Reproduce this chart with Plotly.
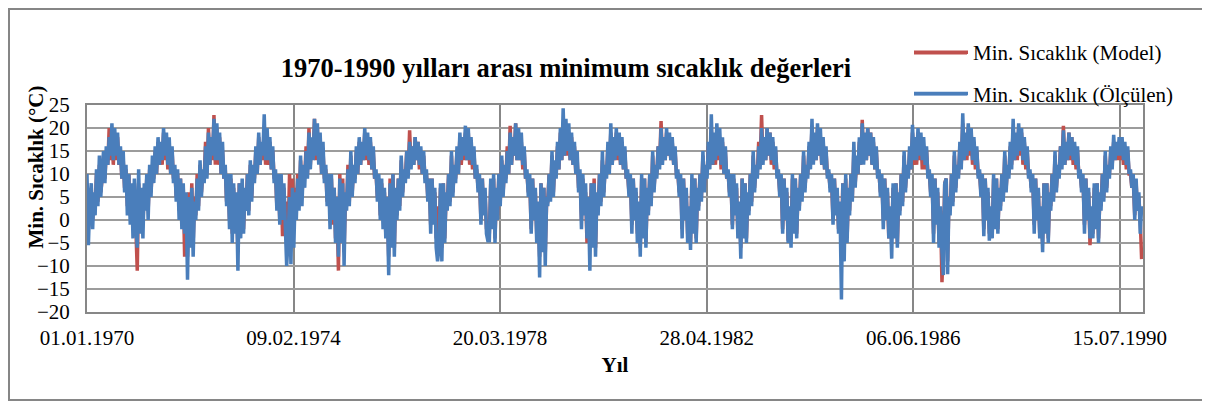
import pandas as pd
import plotly.graph_objects as go

# Readings on the 1st, 11th and 21st of each month, one row per year (3 values per month)
years = list(range(1970, 1991))
days = [1, 11, 21]

model = [
    8,-2,3, 7,0,5, 3,10,4, 12,6,9, 14,9,15, 12,20,13, 19,12,18, 13,18,12, 15,9,13, 7,11,3, 10,1,7, -2,8,1,          # 1970
    -11,8,-2, 6,-1,7, 3,9,2, 11,6,12, 9,15,10, 17,12,16, 12,19,13, 18,11,16, 10,15,9, 11,5,10, 2,9,0, 7,-8,5,      # 1971
    -8,6,-4, 8,-5,5, 1,10,3, 12,6,10, 9,17,10, 20,12,17, 13,22.8,12, 20,12,18, 10,15,9, 11,4,9, 0,9,-3, 7,-2,5,    # 1972
    -7,8,-3, 8,-2,6, 3,10,2, 12,5,11, 9,15,10, 18,12,16, 13,20,12, 19,12,17, 11,15,9, 10,3,9, 0,9,-3.5, 7,-2,4,    # 1973
    -3,10,-1, 9,-2,7, 2,10,3, 13,5,11, 9,16,10, 20,12,17, 14,22,13, 20,13,18, 10,15,9, 11,4,9, 1,9,-1, 7,-4,4,     # 1974
    -11,10,-4, 9,-7,5, 3,12,4, 14,6,11, 9,15,10, 17,12,16, 13,19,13, 18,12,17, 11,15,9, 10,5,9, 1,8,0, 6,-3,4,     # 1975
    -8,9,-5, 10,-6,6, 1,9,3, 13,6,10, 9,15,10, 19.5,12,16, 12,18,13, 17,11,15, 10,14,9, 10,5,9, -1,9,0, 6,-4,3,    # 1976
    -5,7,-6, 8,-4,5, 3,10,4, 14,6,11, 9,15,10, 18,12,17, 13,19,13, 19,12,17, 11,15,9, 11,7,9, 0,9,2, 6,-2,-1,      # 1977
    -3,8,-1, 9,-4,6, 1,10,4, 13,6,11, 9,16,10, 20.5,12,17, 14,21,13, 19,13,17, 11,15,9, 10,6,9, -2,9,1, 6,-3,3,    # 1978
    -8,8,-5, 7,-7,4, 4,10,5, 14,6,12, 10,16,11, 19,13,20, 14,20,14, 19,13,18, 12,16,10, 13,7,10, 0,9,2, 6,-5,4,    # 1979
    -5,8,-4, 9,-6,5, 2,10,4, 13,6,11, 10,16,11, 19,12,17, 13,19,13, 18,12,17, 11,15,9, 10,6,9, -1,9,1, 6,-3,3,     # 1980
    -6,9,-3, 9,-5,6, 2,10,4, 14,7,11, 10,16,12, 21.5,13,17, 13,19,14, 18,13,17, 12,15,10, 10,6,9, -2,9,1, 6,-3,2,  # 1981
    -5,9,-2, 9,-4,6, 3,10,5, 14,7,11, 10,16,12, 20,12,17, 12,19,13, 18,11,17, 10,15,9, 10,6,9, -1,9,2, 7,-3,3,     # 1982
    -6,9,-3, 8,-4,5, 2,10,4, 14,7,11, 10,17,12, 22.8,13,17, 13,20,14, 19,12,17, 11,15,10, 10,6,9, -2,9,1, 6,-4.5,2,# 1983
    -4,9,-2, 9,-3,6, 3,10,5, 14,7,11, 10,16,12, 20,13,17, 13,20,14, 18,12,17, 11,15,10, 10,7,9, 0,9,2, 6,-2,3,     # 1984
    -5,8,-6, 9,-4,6, 2,10,5, 15,8,12, 10,17,12, 21.8,13,18, 13,20,14, 19,12,17, 11,15,10, 10,6,9, 0,9,2, 6,-4,2,   # 1985
    -4,7,-3, 8,-5,5, 2,10,4, 14,7,11, 10,15,11, 19,12,16, 12,19,13, 18,11,16, 11,15,10, 10,6,9, -3,9,0, 6,-5,2,    # 1986
    -13.5,-6,8, 9,-9,5, 2,10,4, 14,7,11, 10,16,12, 21,13,17, 13,20,14, 19,12,17, 11,15,10, 10,6,9, -2,9,1, 6,-3,2, # 1987
    -3,9,-1, 9,-2,6, 3,10,5, 14,7,11, 10,16,12, 20,13,17, 13,20,14, 19,12,17, 11,15,10, 10,7,9, -1,9,1, 6,-3,2,    # 1988
    -5,8,-2, 8,-4,5, 3,10,5, 14,7,11, 10,16,12, 20.5,12,16, 13,19,13, 18,12,16, 11,15,10, 10,7,9, -1,9,1, 6,-5.5,2,# 1989
    -3,7,-1, 8,-4,5, 3,10,5, 14,7,11, 10,15,12, 17,13,16, 13,17,13, 17,12,16, 11,15,10, 10,7,9, 1,8,2, 5,0,-8.5,   # 1990
]

olculen = [
    10,-5.5,4, 8,-2,6, 1,11,3, 14,5,10, 15,8,16, 12,18,14, 21,13,20, 14,19,12, 16,9,15, 6,12,1, 10,-1,8, -4,9,0,     # 1970
    -6,11,-3, 7,-4,8, 2,10,0, 12,5,14, 8,16,10, 18,12,17, 13,20,14, 19,12,18, 10,16,8, 12,4,11, 0,9,-2, 8,-3,6,     # 1971
    -13,5,-6, 7,-8,4, 0,9,2, 13,5,11, 8,16,9, 19,12,18, 14,22,13, 21,13,19, 10,17,9, 12,3,10, -2,10,-5, 8,-3,6,     # 1972
    -11,8,-4, 9,-3,7, 2,10,1, 13,4,12, 8,16,10, 19,12,17, 14,23,13, 20,13,18, 11,16,8, 11,2,10, -1,10,0, 8,-3,-10,  # 1973
    -4,5,-9.6, 7,-6,6, 0,9,2, 14,3,12, 7,15,9, 19,11,18, 13,22,14, 21,12,19, 10,17,8, 12,3,10, -2,10,0, 7,-5,5,     # 1974
    -8,9,-5, 8,-10,6, 2,11,3, 15,5,12, 8,16,10, 18,12,17, 13,20,14, 19,13,18, 11,16,9, 11,4,10, 0,9,-2, 7,-4,5,     # 1975
    -12,8,-6, 10,-8,7, 0,9,2, 14,5,11, 8,15,9, 17,11,16, 12,18,13, 17,12,16, 10,15,8, 11,4,9, -3,9,-1, 7,-6,-9,     # 1976
    -6,8,-9, 8,-5,6, 2,10,3, 15,5,12, 8,16,10, 19,13,18, 14,20.5,13, 20,13,18, 12,16,9, 12,6,10, -1,9,1, 7,-3,-4.5,# 1977
    -4.5,9,-2, 10,-5,7, 0,10,3, 14,5,12, 8,15,10, 19,12,18, 14,21,13, 20,13,19, 12,16,9, 11,5,10, -3,9,0, 7,-5,4,   # 1978
    -12.5,8,-7, 7,-10,5, 3,10,4, 15,5,13, 9,17,11, 20,13,24.3, 14,22,15, 21,13,19, 12,17,10, 15,6,11, -2,10,1, 8,-4,5, # 1979
    -11,8,-6, 8,-8,6, 1,10,3, 15,5,12, 9,17,10, 21,12,18, 13,20,14, 19,12,18, 11,16,9, 11,5,10, -3,9,0, 7,-5,4,     # 1980
    -8,10,-4, 9,-6,7, 1,10,3, 15,6,12, 9,16,11, 20,12,18, 13,20,14, 19,13,18, 12,16,9, 11,5,10, -4,9,0, 7,-5,3,     # 1981
    -6.5,10,-3, 9,-5,7, 2,10,4, 15,6,12, 9,17,11, 23,12,19, 13,21,14, 20,12,18, 10,16,9, 11,5,10, -2,10,1, 8,-4,4,  # 1982
    -8.4,9,-4, 8,-5,6, 1,10,3, 15,6,12, 9,16,11, 20,12,18, 13,20,14, 19,13,18, 12,16,9, 11,5,10, -3,9,0, 7,-5,3,    # 1983
    -6,10,-3, 9,-4,7, 2,10,4, 15,6,12, 9,17,11, 22,12,19, 13,21,14, 20,12,18, 11,16,9, 11,6,10, -1,9,1, 7,-3,4,     # 1984
    -17.3,8,-9, 10,-5,7, 1,10,4, 17,7,14, 10,18,12, 21,12,19, 13,20,14, 19,12,18, 11,16,9, 11,5,10, -2,9,0, 7,-4,3, # 1985
    -8.4,8,-4, 8,-6,6, 1,10,3, 15,6,12, 9,16,11, 20.7,13,18, 13,20,14, 19,13,18, 12,16,9, 11,5,10, -5,9,-1, 7,-6,3, # 1986
    -7,-12,8, 9,-11.8,5, 1,10,3, 15,6,12, 9,17,11, 23.2,13,19, 14,21,15, 20,13,18, 12,16,9, 11,5,10, -3.5,9,0, 7,-4.5,3, # 1987
    -4,10,-2, 9,-3,7, 2,10,4, 15,6,12, 9,17,11, 22,13,19, 14,21,15, 20,13,18, 12,16,9, 11,6,10, -3,9,0, 7,-4,3,     # 1988
    -7,8,-3, 8,-5,6, 2,10,4, 15,6,12, 9,16,11, 19.5,12,17, 13,19,14, 18,13,17, 12,16,9, 11,6,10, -3,9,0, 7,-4,3,    # 1989
    -4,8,-2, 8,-5,6, 2,10,4, 15,6,12, 9,16,11, 18.5,13,17, 14,18,14, 18,13,17, 12,16,10, 11,7,10, 0,9,2, 6,-3,3,    # 1990
]

dates = pd.to_datetime([f"{y}-{m:02d}-{d:02d}" for y in years for m in range(1, 13) for d in days])

tick_dates = ["1970-01-01", "1974-02-09", "1978-03-20", "1982-04-28", "1986-06-06", "1990-07-15"]
tick_text = ["01.01.1970", "09.02.1974", "20.03.1978", "28.04.1982", "06.06.1986", "15.07.1990"]
y_ticks = [-20, -15, -10, -5, 0, 5, 10, 15, 20, 25]

FONT = "Liberation Serif, Times New Roman, serif"
RED = "#C0504D"
BLUE = "#4A7EBB"

L, T, W, H = 79, 97, 1056, 207  # plot area in figure pixels

fig = go.Figure()
fig.add_trace(go.Scatter(x=dates, y=model, mode="lines", name="Min. Sıcaklık (Model)",
                         line=dict(color=RED, width=3.5), legendgroup="a"))
fig.add_trace(go.Scatter(x=dates, y=olculen, mode="lines", name="Min. Sıcaklık (Ölçülen)",
                         line=dict(color=BLUE, width=3.5), legendgroup="b"))

fig.update_layout(
    width=1210, height=407,
    margin=dict(l=L, r=1210 - L - W, t=T, b=407 - T - H, autoexpand=False),
    paper_bgcolor="white", plot_bgcolor="white",
    font=dict(family=FONT, color="black", size=21),
    showlegend=True,
    legend=dict(x=(901 - L) / W, y=(T + H - 24) / H, xanchor="left", yanchor="top",
                font=dict(family=FONT, size=21, color="black"),
                tracegroupgap=11, itemwidth=54, bgcolor="rgba(0,0,0,0)"),
    title=dict(text="<b>1970-1990 yılları arası minimum sıcaklık değerleri</b>",
               x=558 / 1210, xanchor="center", y=1 - 60 / 407, yanchor="middle",
               yref="container", font=dict(family=FONT, size=26.5, color="black")),
)

fig.update_xaxes(
    type="date", range=["1970-01-01", "1990-12-31"],
    tickvals=tick_dates, ticktext=tick_text,
    showgrid=True, gridcolor="#878787", gridwidth=2,
    showline=True, mirror=True, linecolor="#878787", linewidth=2,
    ticks="", zeroline=False,
    tickfont=dict(family=FONT, size=21, color="black"),
    ticklabelstandoff=6,
    title=dict(text="<b>Yıl</b>", font=dict(family=FONT, size=21, color="black"), standoff=8),
)
fig.update_yaxes(
    range=[-20, 25], tickvals=y_ticks,
    showgrid=True, gridcolor="#9C9C9C", gridwidth=2,
    showline=True, mirror=True, linecolor="#878787", linewidth=2,
    ticks="", zeroline=False,
    tickfont=dict(family=FONT, size=21, color="black"),
    ticklabelstandoff=11,
)

fig.add_annotation(text="<b>Min. Sıcaklık (°C)</b>", xref="paper", yref="paper",
                   x=(27 - L) / W, y=(T + H - 159.5) / H, textangle=-90,
                   showarrow=False, xanchor="center", yanchor="middle",
                   font=dict(family=FONT, size=21, color="black"))

fig.add_shape(type="rect", xref="paper", yref="paper",
              x0=(1 - L) / W, x1=(1195 - L) / W,
              y0=(T + H - 392) / H, y1=(T + H - 1) / H,
              line=dict(color="#868686", width=2), fillcolor="rgba(0,0,0,0)", layer="below")

# longer legend key lines, as in the original legend
for yk, col in [(45, RED), (86, BLUE)]:
    fig.add_shape(type="line", xref="paper", yref="paper",
                  x0=(906 - L) / W, x1=(959 - L) / W,
                  y0=(T + H - yk) / H, y1=(T + H - yk) / H,
                  line=dict(color=col, width=3))

fig.write_html("out.html")
